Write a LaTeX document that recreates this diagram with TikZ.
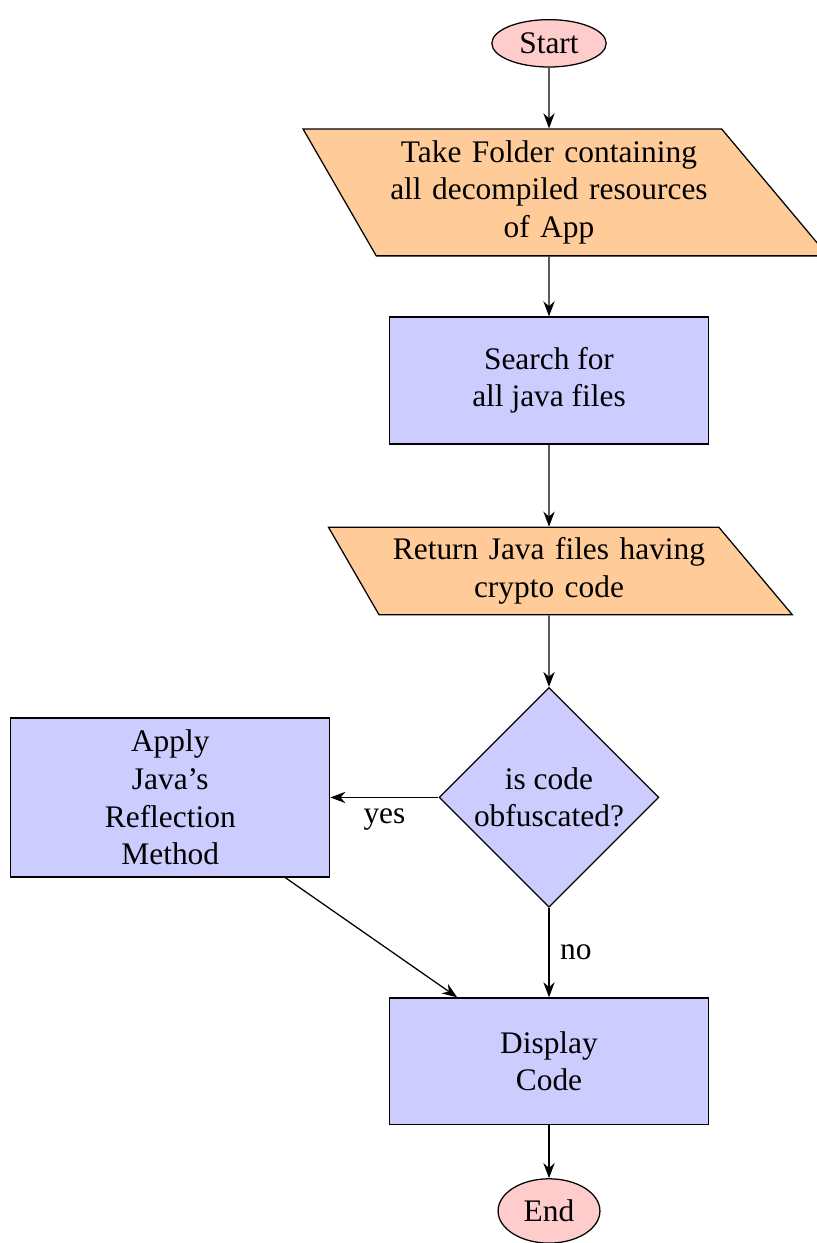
\documentclass[tikz,border=0pt]{standalone}
\usepackage{fontspec}
\setmainfont{Liberation Serif}
\usetikzlibrary{shapes.geometric, arrows.meta, positioning}

\begin{document}
\begin{tikzpicture}[node distance=0.7cm and 1.2cm, >=Stealth]
    \tikzstyle{terminal} = [ellipse, draw=black, fill=red!20, inner sep=0pt, minimum width=1.28cm, minimum height=0.53cm]
    \tikzstyle{io} = [trapezium, trapezium left angle=120, trapezium right angle=50, draw=black, fill=orange!40, text width=3.57cm, align=center, minimum height=1.42cm]
    \tikzstyle{process} = [rectangle, draw=black, fill=blue!20, align=center, minimum width=3.57cm, minimum height=1.42cm]
    \tikzstyle{decision} = [diamond, aspect=1, draw=black, fill=blue!20, align=center, inner sep=0pt, minimum width=2.46cm, minimum height=2.46cm]

    \useasboundingbox (0,0) rectangle (9.134,-13.913);

    \node (start)   [terminal] at (6.145,-0.485) {Start};
    \node (folder)  [io, below=0.68cm of start]       {Take Folder containing\\all decompiled resources\\of App};
    \node (search)  [process, below=0.67cm of folder] {Search for\\all java files};
    \node (crypto)  [io, below=0.92cm of search, minimum height=0.96cm] {Return Java files having\\crypto code};
    \node (obf)     [decision, below=0.80cm of crypto] {is code\\obfuscated?};
    \node (reflect) [process, left=1.21cm of obf, minimum height=1.78cm] {Apply\\Java's\\Reflection\\Method};
    \node (display) [process, below=1.00cm of obf]    {Display\\Code};
    \node (stop)    [terminal, below=0.59cm of display, minimum width=1.14cm, minimum height=0.72cm] {End};

    \draw [->] (start) -- (folder);
    \draw [->] (folder) -- (search);
    \draw [->] (search) -- (crypto);
    \draw [->] (crypto) -- (obf);
    \draw [->] (obf) -- node[below] {yes} (reflect);
    \draw [->] (obf) -- node[right] {no} (display);
    \draw [->] (reflect) -- (display);
    \draw [->] (display) -- (stop);
\end{tikzpicture}
\end{document}
